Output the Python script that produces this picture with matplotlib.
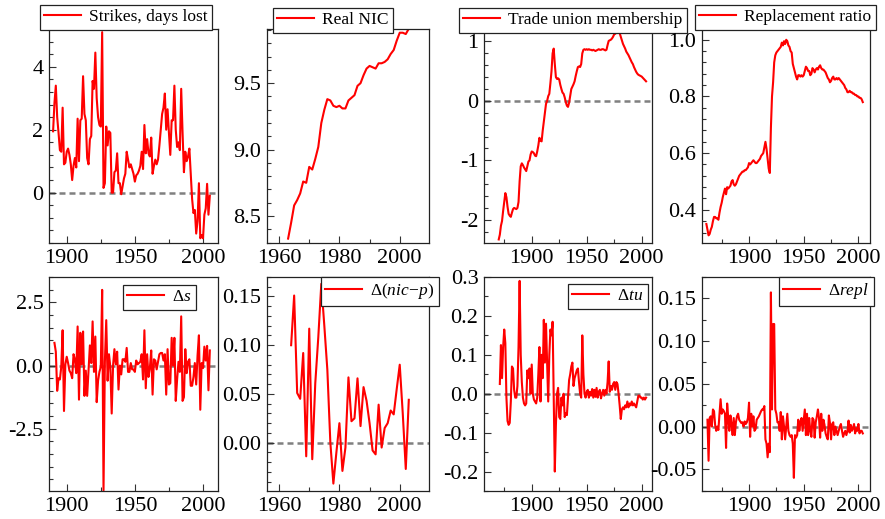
import numpy as np
import matplotlib
matplotlib.use('Agg')
import matplotlib.pyplot as plt
from matplotlib.ticker import MultipleLocator, AutoMinorLocator, FormatStrFormatter

plt.rcParams['font.family'] = ['Liberation Serif', 'DejaVu Serif']
plt.rcParams['mathtext.fontset'] = 'custom'
plt.rcParams['mathtext.rm'] = 'Liberation Serif'
plt.rcParams['mathtext.it'] = 'Liberation Serif:italic'
plt.rcParams['axes.unicode_minus'] = False

# ---- data ----
strike_years = np.arange(1890, 2006)
strikes = [1.95, 2.85, 3.4, 2.4, 1.9, 1.35, 1.3, 2.7, 0.9, 0.95,
           1.3, 1.4, 1.2, 0.9, 0.4, 0.85, 1.1, 0.8, 2.35, 1.0,
           2.3, 2.35, 3.7, 2.5, 2.3, 1.1, 0.9, 1.7, 1.8, 3.55,
           3.3, 4.45, 3.0, 2.4, 2.15, 2.1, 5.1, 0.15, 0.3, 2.1,
           1.5, 1.95, 1.9, 0.0, 0.0, 0.65, 0.7, 1.25, 0.3, 0.3,
           -0.05, 0.2, 0.45, 0.6, 1.3, 1.05, 0.8, 0.9, 0.75, 0.6,
           0.35, 0.55, 0.6, 0.7, 0.85, 1.3, 0.75, 2.15, 1.25, 1.7,
           1.25, 1.15, 1.75, 0.6, 0.85, 1.05, 0.9, 1.05, 1.5, 2.0,
           2.5, 2.7, 3.15, 2.0, 2.65, 1.9, 1.2, 2.3, 2.3, 3.4,
           2.0, 1.45, 1.6, 1.35, 3.3, 1.9, 0.65, 1.3, 1.0, 1.15,
           1.4, 0.6, -0.2, -0.65, -0.55, -1.3, -0.9, 0.3, -1.45, -1.35,
           -1.45, -0.7, -0.5, 0.28, -0.7, -0.1]

nic_years = np.arange(1963, 2004)
real_nic = [8.33, 8.45, 8.58, 8.62, 8.67, 8.76, 8.75, 8.87, 8.85, 8.93,
            9.02, 9.2, 9.3, 9.38, 9.37, 9.33, 9.32, 9.33, 9.31, 9.31,
            9.37, 9.39, 9.41, 9.48, 9.5, 9.56, 9.61, 9.63, 9.62, 9.61,
            9.65, 9.65, 9.66, 9.68, 9.72, 9.75, 9.82, 9.88, 9.88, 9.87, 9.91]

tu_years = np.arange(1870, 2005)
union = [-2.33, -2.25, -2.1, -2.02, -1.85, -1.7, -1.55, -1.62, -1.78, -1.9,
         -1.93, -1.95, -1.88, -1.82, -1.8, -1.81, -1.82, -1.8, -1.7, -1.35,
         -1.1, -1.05, -1.08, -1.12, -1.15, -1.18, -1.1, -1.02, -1.0, -0.9,
         -0.85, -0.86, -0.88, -0.92, -0.93, -0.85, -0.75, -0.62, -0.67, -0.68,
         -0.5, -0.35, -0.2, -0.05, 0.0, 0.08, 0.12, 0.3, 0.5, 0.8,
         0.88, 0.62, 0.4, 0.37, 0.38, 0.36, 0.27, 0.2, 0.14, 0.12,
         0.06, -0.02, -0.08, -0.1, -0.03, 0.08, 0.2, 0.24, 0.28, 0.33,
         0.42, 0.5, 0.57, 0.58, 0.57, 0.62, 0.8, 0.86, 0.87, 0.86,
         0.87, 0.86, 0.87, 0.86, 0.86, 0.85, 0.86, 0.85, 0.84, 0.85,
         0.86, 0.87, 0.86, 0.86, 0.87, 0.87, 0.86, 0.85, 0.86, 0.94,
         1.01, 1.02, 1.03, 1.05, 1.08, 1.12, 1.13, 1.15, 1.19, 1.2,
         1.14, 1.08, 1.02, 0.96, 0.92, 0.88, 0.83, 0.8, 0.77, 0.73,
         0.69, 0.65, 0.62, 0.57, 0.53, 0.49, 0.46, 0.44, 0.43, 0.42,
         0.41, 0.39, 0.37, 0.35, 0.33]

repl_years = np.arange(1861, 2005)
repl = [0.35, 0.33, 0.31, 0.315, 0.33, 0.34, 0.36, 0.375, 0.375, 0.37,
        0.37, 0.365, 0.39, 0.41, 0.425, 0.445, 0.46, 0.475, 0.455, 0.48,
        0.475, 0.48, 0.485, 0.5, 0.505, 0.49, 0.485, 0.49, 0.5, 0.51,
        0.52, 0.525, 0.53, 0.535, 0.535, 0.54, 0.54, 0.545, 0.55, 0.565,
        0.56, 0.565, 0.57, 0.575, 0.57, 0.565, 0.565, 0.57, 0.575, 0.58,
        0.59, 0.595, 0.6, 0.62, 0.64, 0.615, 0.58, 0.545, 0.53, 0.69,
        0.8, 0.85, 0.92, 0.945, 0.955, 0.96, 0.965, 0.97, 0.975, 0.99,
        0.98, 0.995, 0.985, 1.0, 0.995, 0.98, 0.975, 0.96, 0.955, 0.915,
        0.9, 0.885, 0.87, 0.86, 0.875, 0.875, 0.87, 0.875, 0.87, 0.875,
        0.89, 0.905, 0.9, 0.89, 0.89, 0.875, 0.88, 0.9, 0.895, 0.885,
        0.895, 0.9, 0.895, 0.905, 0.91, 0.9, 0.895, 0.895, 0.89, 0.885,
        0.875, 0.865, 0.86, 0.85, 0.855, 0.865, 0.87, 0.86, 0.86, 0.865,
        0.86, 0.865, 0.86, 0.855, 0.85, 0.845, 0.84, 0.83, 0.825, 0.815,
        0.815, 0.82, 0.815, 0.815, 0.81, 0.81, 0.805, 0.805, 0.8, 0.8,
        0.795, 0.795, 0.79, 0.78]

ds_years = np.arange(1891, 2006)
d_strikes = [0.9, 0.55, -1.0, -0.5, -0.55, -0.05, 1.4, -1.8, 0.05, 0.35,
             0.1, -0.2, -0.3, -0.5, 0.45, 0.25, -0.3, 1.55, -1.35, 1.3,
             0.05, 1.35, -1.2, -0.2, -1.2, -0.2, 0.8, 0.1, 1.75, -0.25,
             1.15, -1.45, -0.6, -0.25, -0.05, 3.0, -4.95, 0.15, 1.8, -0.6,
             0.45, -0.05, -1.9, 0.0, 0.65, 0.05, 0.55, -0.95, 0.0, -0.35,
             0.25, 0.25, 0.15, 0.7, -0.25, -0.25, 0.1, -0.15, -0.15, -0.25,
             0.2, 0.05, 0.1, 0.15, 0.45, -0.55, 1.4, -0.9, 0.45, -0.45,
             -0.1, 0.6, -1.15, 0.25, 0.2, -0.15, 0.15, 0.45, 0.5, 0.5,
             0.2, 0.45, -1.15, 0.65, -0.75, -0.7, 1.1, 0.0, 1.1, -1.4,
             -0.55, 0.15, -0.25, 1.95, -1.4, -1.25, 0.65, -0.3, 0.15, 0.25,
             -0.8, -0.8, -0.45, 0.1, -0.75, 0.4, 1.2, -1.75, 0.1, -0.1,
             0.75, 0.2, 0.78, -0.98, 0.6]

dnic_years = np.arange(1964, 2004)
d_nic = [0.100, 0.151, 0.051, 0.045, 0.092, -0.014, 0.117, -0.017, 0.061, 0.108,
         0.163, 0.12, 0.075, 0.0, -0.042, -0.01, 0.020, -0.029, -0.005, 0.067,
         0.022, 0.025, 0.066, 0.017, 0.057, 0.043, 0.02, -0.008, -0.012, 0.039,
         -0.005, 0.015, 0.02, 0.033, 0.029, 0.055, 0.080, 0.03, -0.027, 0.044]

dtu_years = np.arange(1871, 2005)
d_union = [0.025, 0.125, 0.04, 0.12, 0.165, 0.13, -0.01, -0.07, -0.08, -0.075,
           -0.02, 0.07, 0.065, 0.01, -0.01, -0.01, 0.02, 0.12, 0.29, 0.1,
           0.03, -0.01, -0.025, -0.03, -0.025, 0.06, 0.04, 0.065, 0.0, 0.075,
           0.0, -0.015, -0.02, -0.025, -0.01, 0.05, 0.12, -0.02, 0.1, 0.04,
           0.19, 0.08, 0.18, 0.075, -0.02, 0.1, 0.165, 0.15, 0.185, 0.0,
           -0.2, -0.08, 0.0, 0.015, -0.06, -0.065, -0.01, -0.03, 0.0, -0.06,
           -0.05, -0.055, -0.01, 0.035, 0.05, 0.07, 0.08, 0.02, 0.04, 0.05,
           0.06, 0.065, 0.03, 0.0, -0.01, 0.15, 0.05, 0.0, -0.01, 0.005,
           0.01, -0.01, 0.005, -0.005, 0.012, -0.01, 0.01, -0.008, 0.015, -0.01,
           0.005, 0.01, -0.012, 0.0, 0.01, -0.005, 0.01, 0.0, 0.03, 0.083,
           0.005, 0.02, 0.01, 0.025, 0.03, 0.01, 0.03, 0.025, 0.0, -0.03,
           -0.065, -0.04, -0.035, -0.04, -0.03, -0.035, -0.02, -0.035, -0.025, -0.03,
           -0.02, -0.03, -0.025, -0.03, -0.035, -0.02, -0.005, -0.005, -0.01, -0.01,
           -0.015, -0.01, -0.015, -0.01]

drepl_years = np.arange(1862, 2005)
d_repl = [0.008, -0.04, 0.01, 0.012, 0.0, 0.02, 0.018, 0.002, -0.005, 0.0,
          -0.004, 0.015, 0.032, 0.015, 0.02, 0.018, 0.015, -0.025, 0.027, 0.01,
          -0.005, 0.013, 0.003, -0.01, 0.01, -0.01, 0.005, 0.012, 0.015, 0.008,
          0.006, 0.004, 0.005, 0.0, 0.006, 0.003, 0.005, 0.01, 0.028, -0.012,
          0.015, 0.0, 0.012, -0.005, -0.003, 0.008, 0.01, 0.012, 0.015, 0.018,
          0.02, 0.02, 0.024, -0.015, -0.02, -0.036, -0.02, -0.03, 0.157, 0.02,
          0.12, 0.12, 0.02, 0.015, 0.005, 0.005, -0.005, 0.017, -0.015, 0.012,
          0.0, -0.015, 0.0, 0.015, -0.005, -0.01, -0.012, -0.01, -0.02, -0.06,
          -0.01, -0.013, -0.01, 0.008, -0.005, 0.005, 0.01, -0.005, 0.008, 0.02,
          -0.01, 0.015, -0.01, 0.01, -0.005, -0.012, 0.01, 0.008, -0.013, 0.005,
          0.012, 0.02, 0.01, -0.013, 0.015, -0.005, 0.008, 0.002, -0.008, -0.012,
          -0.015, 0.013, 0.004, -0.015, 0.003, 0.005, -0.01, 0.0, -0.005, -0.01,
          -0.005, 0.0, 0.003, -0.005, -0.012, -0.008, -0.005, -0.01, -0.005, 0.007,
          -0.007, 0.002, -0.005, -0.002, 0.003, -0.008, -0.002, -0.005, 0.003, -0.008,
          -0.005, -0.005, -0.008]

labels = ['Strikes, days lost', 'Real NIC', 'Trade union membership', 'Replacement ratio',
          r'$\Delta s$', r'$\Delta(nic\!-\!p)$', r'$\Delta tu$', r'$\Delta repl$']

# ---- layout (pixels of the 885x519 canvas) ----
W, H = 885, 519
fig = plt.figure(figsize=(W / 100, H / 100), dpi=100)

cols = [(49, 218), (267, 429), (484, 652), (702, 870)]
rows = [(29, 243), (277, 491)]

panels = [
    (strike_years, strikes, (-1.6, 5.2), (1887, 2011), 2, 5, '%d', True, (40, 5)),
    (nic_years, real_nic, (8.297, 9.908), (1956, 2009.7), 0.5, 5, '%.1f', False, (273, 8)),
    (tu_years, union, (-2.39, 1.21), (1856.6, 2009.4), 1, 5, '%d', True, (459, 8)),
    (repl_years, repl, (0.283, 1.038), (1857, 2010.6), 0.2, 5, '%.1f', False, (695, 5)),
    (ds_years, d_strikes, (-4.97, 3.51), (1887, 2011), 2.5, 5, '%.1f', True, (123, 285)),
    (dnic_years, d_nic, (-0.0496, 0.170), (1956, 2009.7), 0.05, 5, '%.2f', True, (321, 277)),
    (dtu_years, d_union, (-0.25, 0.30), (1856.6, 2009.4), 0.1, 2, '%.1f', True, (568, 284)),
    (drepl_years, d_repl, (-0.0754, 0.175), (1857, 2010.6), 0.05, 2, '%.2f', True, (779, 277)),
]

for i, (yrs, vals, ylim, xlim, ymaj, nminor, fmt, zero, leg_xy) in enumerate(panels):
    l, r = cols[i % 4]
    t, b = rows[i // 4]
    ax = fig.add_axes([l / W, 1 - b / H, (r - l) / W, (b - t) / H])
    if zero:
        ax.axhline(0, color='#808080', lw=1.8, dashes=(2.4, 1.6), zorder=1)
    ax.plot(yrs, vals, color='red', lw=1.5, label=labels[i], zorder=2)
    ax.set_xlim(*xlim)
    ax.set_ylim(*ylim)

    if i % 4 == 1:
        ax.xaxis.set_major_locator(MultipleLocator(20))
        ax.xaxis.set_minor_locator(MultipleLocator(10))
    else:
        ax.xaxis.set_major_locator(MultipleLocator(50))
        ax.xaxis.set_minor_locator(MultipleLocator(25))
    ax.yaxis.set_major_locator(MultipleLocator(ymaj))
    ax.yaxis.set_minor_locator(AutoMinorLocator(nminor))
    ax.yaxis.set_major_formatter(FormatStrFormatter(fmt))

    ax.tick_params(which='both', direction='in', top=False, right=False,
                   labelsize=16, pad=4, width=0.8, color='#333333')
    ax.tick_params(which='major', length=5)
    ax.tick_params(which='minor', length=3)
    for sp in ax.spines.values():
        sp.set_linewidth(0.9)
        sp.set_color('#222222')

    lx, ly = leg_xy
    leg = ax.legend(loc='upper left', bbox_to_anchor=(lx / W, 1 - ly / H),
                    bbox_transform=fig.transFigure, borderaxespad=0,
                    fontsize=12.5, frameon=True, fancybox=False, framealpha=1,
                    edgecolor='#222222', handlelength=2.1, handletextpad=0.5,
                    borderpad=0.25)
    leg.get_frame().set_linewidth(0.9)

fig.savefig('out.png', dpi=100)
